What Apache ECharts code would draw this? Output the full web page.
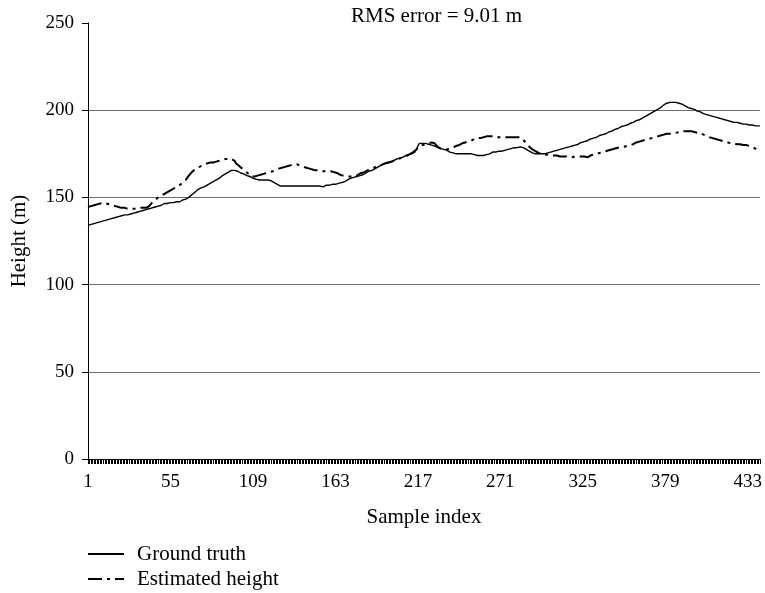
<!DOCTYPE html>
<html>
<head>
<meta charset="utf-8">
<script src="https://cdn.jsdelivr.net/npm/echarts@6/dist/echarts.min.js"></script>
<style>
html,body{margin:0;padding:0;background:#fff;}
#chart{width:765px;height:593px;}
</style>
</head>
<body>
<div id="chart"></div>
<script>
// Ground truth height (m), samples 1..441
const groundTruth = [
/*1*/ 134,134,134.5,134.5,135,135,135.5,
/*8*/ 136,136,136.5,136.5,137,137,137.5,137.5,138,138,138.5,138.5,
/*20*/ 139,139,139,139.5,139.5,140,140,140,140.5,140.5,140.5,
/*31*/ 141,141,141.5,141.5,142,142,
/*37*/ 142.5,142.5,143,143,143.5,143.5,144,
/*44*/ 144.5,144.5,145,145,145.5,145.5,146,
/*51*/ 146.5,146.5,146.5,147,147,147,147,147,147.5,147.5,
/*61*/ 147.5,148,148.5,148.5,149,
/*66*/ 149.5,150,151,151.5,152,153,
/*72*/ 154,154.5,155,155.5,156,156,156.5,157,157.5,
/*81*/ 158,158.5,159,159.5,160,160.5,161,
/*88*/ 162,162.5,163,163.5,164,164.5,165,165.5,
/*96*/ 166,
/*97*/ 165.5,165,165,164.5,164,163.5,163.5,163,
/*105*/ 162.5,162,162,161.5,
/*109*/ 161,160.5,160.5,160,160,160,160,160,160,160,160,159.5,
/*121*/ 159.5,159,158.5,158,157.5,157,156.5,
/*128*/ 156.5,156.5,156.5,156.5,156.5,156.5,156.5,156.5,156.5,156.5,156.5,156.5,156.5,
/*141*/ 156.5,156.5,156.5,156.5,156.5,156.5,156.5,156.5,156.5,156.5,156.5,156.5,156.5,
/*154*/ 155.5,156,157,
/*157*/ 157,157,157,157,157.5,157.5,157.5,158,
/*165*/ 158,158,158.5,158.5,
/*169*/ 159,159.5,160,160.5,
/*173*/ 161,161,161.5,161.5,162,162,162.5,
/*180*/ 163,163,163.5,164,164.5,165,165.5,165.5,166,
/*189*/ 166.5,167,167.5,168,168.5,169,169.5,
/*196*/ 169.5,170,170,170.5,170.5,171,
/*202*/ 171.5,172,172.5,172.5,173,173,173.5,
/*209*/ 174,174.5,174.5,175,175,175.5,
/*215*/ 176,177.5,179.5,
/*218*/ 181,181,181,181,
/*222*/ 181,180.5,180.5,180,180,179.5,179.5,
/*229*/ 179,178.5,178.5,178,178,177.5,
/*235*/ 177,177,176.5,176,176,175.5,175.5,
/*242*/ 175,175,175,175,175,175,175,175,175,175,175,
/*253*/ 175,174.5,
/*255*/ 174,174,174,174,174,174,174.5,174.5,174.5,
/*264*/ 175,175.5,
/*266*/ 176,176,176,176.5,176.5,176.5,176.5,
/*273*/ 177,177,177.5,177.5,
/*277*/ 178,178,178,178.5,178.5,178.5,179,
/*284*/ 179,179,178.5,178,
/*288*/ 177.5,177,176.5,176,175.5,175.5,
/*294*/ 175,175,175,175,175,175,175,
/*301*/ 175,175.5,176,176,176.5,176.5,
/*307*/ 177,177,177.5,177.5,178,178,178.5,178.5,179,
/*316*/ 179,179.5,179.5,180,180,180.5,180.5,
/*323*/ 181,181.5,181.5,182,182.5,182.5,183,183.5,183.5,184,184.5,
/*334*/ 184.5,185,185.5,185.5,186,186.5,186.5,187,187.5,187.5,188,188.5,189,
/*347*/ 189.5,189.5,190,190.5,190.5,191,191.5,191.5,192,192.5,192.5,193,193.5,194,
/*361*/ 194.5,194.5,195,195.5,196,196.5,197,197.5,198,198.5,
/*371*/ 199,199.5,200,200.5,201,201.5,202,
/*378*/ 203,203.5,204,204,
/*382*/ 204.5,204.5,204.5,204.5,204.5,204.5,
/*388*/ 204,203.5,203.5,203,202.5,
/*393*/ 202,201.5,201.5,201,200.5,200.5,200,199.5,199.5,199,198.5,
/*404*/ 198,198,197.5,197.5,197,197,196.5,196.5,196,196,195.5,
/*415*/ 195,195,194.5,194.5,194,194,194,193.5,193.5,
/*424*/ 193,193,193,192.5,192.5,192.5,192,192,192,192,
/*434*/ 191.5,191.5,191.5,191.5,191,191,191,191
];

// Estimated height (m), samples 1..441
const estimatedHeight = [
/*1*/ 144.5,145,145,145.5,145.5,146,146,146.5,146.5,147,
/*11*/ 147,147,146.5,146.5,146,145.5,145.5,145,145,
/*20*/ 144.5,144.5,144.5,144,144,144,144,143.5,143.5,
/*29*/ 143.5,143.5,143.5,143.5,143.5,144,144,144,144,144,
/*39*/ 144,144.5,145,146,147,147.5,148.5,
/*46*/ 149.5,150,150.5,151,151.5,152,152.5,153,153.5,
/*55*/ 154,154.5,155,155.5,156,156.5,157,157.5,158.5,
/*64*/ 159,160,161,162.5,163.5,164.5,
/*70*/ 165.5,166,166.5,167,167.5,168,168,168.5,169,
/*79*/ 169.5,169.5,170,170,170,170.5,170.5,171,171,
/*88*/ 171.5,171.5,171.5,172,172,172,172,172,
/*96*/ 172.5,171,
/*98*/ 169.5,168.5,168,167,166.5,165.5,165,
/*105*/ 164.5,163.5,162.5,
/*108*/ 162,162,162,162.5,162.5,
/*113*/ 162.5,163,163,163.5,163.5,164,164,164.5,
/*121*/ 164.5,165,165.5,166,166,166.5,166.5,167,167,
/*130*/ 167.5,168,168,168.5,168.5,169,169,
/*137*/ 169.5,169,168.5,168,168,167.5,167,167,166.5,166.5,
/*147*/ 166,166,166,165.5,165.5,165.5,165.5,165,165,
/*156*/ 165,165,165,165,165,164.5,164.5,
/*163*/ 164.5,164,163.5,163,
/*167*/ 162.5,162.5,162.5,162.5,162,162,162,162,162,
/*176*/ 162,162.5,163,163.5,164,164.5,164.5,165,
/*184*/ 165.5,166,166.5,166.5,167,167.5,167.5,168,168,
/*193*/ 168.5,169,169,169.5,169.5,170,170.5,170.5,171,
/*202*/ 171.5,171.5,172,172.5,172.5,173,173,173.5,
/*210*/ 174,174.5,175,175.5,
/*214*/ 176,176.5,177.5,178,
/*218*/ 179,179.5,180,180,180.5,181,181,181.5,181.5,
/*227*/ 182,181,180,179,
/*231*/ 178,178,177.5,177.5,
/*235*/ 177,177.5,177.5,178,178.5,178.5,179,179.5,180,180,180.5,
/*246*/ 181,181.5,181.5,182,182,182.5,182.5,183,183.5,
/*255*/ 183.5,184,184,184,184.5,184.5,184.5,185,185,
/*264*/ 185,185,185,185,184.5,184.5,184.5,184.5,184.5,
/*273*/ 184.5,184.5,184.5,184.5,184.5,184.5,184.5,184.5,184.5,184.5,184.5,
/*284*/ 184.5,184,183,182,181,180,
/*290*/ 179,178.5,177.5,177,176.5,176,175.5,
/*297*/ 175,175,175,174.5,174.5,174.5,174.5,174,174,174,
/*307*/ 174,174,173.5,173.5,173.5,173.5,173.5,173.5,173,173,173,
/*318*/ 173,173,173.5,173.5,173.5,173.5,173.5,173.5,173.5,173.5,
/*328*/ 173,173.5,174,174,174.5,174.5,175,175,175.5,175.5,176,
/*339*/ 176,176.5,176.5,177,177,177.5,177.5,178,
/*347*/ 178,178.5,178.5,179,179,179,179.5,179.5,180,
/*356*/ 180,180.5,180.5,181,181.5,181.5,182,182,182.5,
/*365*/ 183,183,183.5,183.5,184,184,184.5,184.5,185,185,185.5,
/*376*/ 185.5,186,186,186,186.5,186.5,186.5,187,187,
/*385*/ 187,187,187.5,187.5,187.5,188,188,188,
/*393*/ 188.5,188,188,188,187.5,187.5,187.5,187,187,
/*402*/ 187,186.5,186,185.5,185.5,185,184.5,184.5,184,
/*411*/ 184,183.5,183.5,183,183,182.5,182.5,182,182,181.5,
/*421*/ 181.5,181,181,181,181,180.5,180.5,180.5,180.5,180,180,
/*432*/ 180,180,179.5,179,179,178.5,178,177.5,177,176.5
];

// Sample index categories 1..N
const sampleIndex = groundTruth.map((_, i) => String(i + 1));
const yTicks = [0, 50, 100, 150, 200, 250];
const titleText = 'RMS error = 9.01 m';

const FONT = '"Liberation Serif", "DejaVu Serif", serif';
const chart = echarts.init(document.getElementById('chart'), null, {renderer: 'canvas'});
chart.setOption({
  animation: false,
  backgroundColor: '#fff',
  textStyle: {fontFamily: FONT, color: '#000'},
  title: {
    text: titleText,
    left: 351, top: 6,
    padding: 0,
    textStyle: {fontFamily: FONT, fontSize: 21, fontWeight: 'normal', color: '#000'}
  },
  legend: {
    orient: 'vertical',
    left: 87, top: 543,
    height: 60,
    padding: 0,
    itemWidth: 36, itemHeight: 10,
    itemGap: 3,
    itemStyle: {opacity: 0},
    textStyle: {fontFamily: FONT, fontSize: 21, lineHeight: 22, color: '#000', padding: [0, 0, 0, 8]},
    data: ['Ground truth', 'Estimated height']
  },
  grid: {left: 88, right: 2, top: 23, bottom: 134, containLabel: false},
  xAxis: {
    type: 'category',
    data: sampleIndex,
    boundaryGap: false,
    name: 'Sample index',
    nameLocation: 'middle',
    nameGap: 48,
    nameTextStyle: {fontFamily: FONT, fontSize: 21, color: '#000'},
    axisLine: {lineStyle: {color: '#000', width: 1}},
    axisTick: {show: true, interval: 0, length: 5, lineStyle: {color: '#000', width: 1}},
    axisLabel: {interval: 53, margin: 14, fontFamily: FONT, fontSize: 19, color: '#000'},
    splitLine: {show: false}
  },
  yAxis: {
    type: 'value',
    min: yTicks[0], max: yTicks[yTicks.length - 1], interval: 50,
    name: 'Height (m)',
    nameLocation: 'middle',
    nameGap: 58,
    nameTextStyle: {fontFamily: FONT, fontSize: 21, color: '#000'},
    axisLine: {show: true, lineStyle: {color: '#000', width: 1}},
    axisTick: {show: true, length: 6, lineStyle: {color: '#000'}},
    axisLabel: {margin: 14, fontFamily: FONT, fontSize: 19, color: '#000'},
    splitLine: {show: true, showMinLine: false, showMaxLine: false, lineStyle: {color: '#6e6e6e', width: 1}}
  },
  series: [
    {
      name: 'Ground truth', type: 'line', data: groundTruth,
      symbol: 'none',
      lineStyle: {color: '#000', width: 1.4, type: 'solid'},
      itemStyle: {color: '#000'}
    },
    {
      name: 'Estimated height', type: 'line', data: estimatedHeight,
      symbol: 'none',
      lineStyle: {color: '#000', width: 2, type: [14, 5, 3, 5]},
      itemStyle: {color: '#000'}
    }
  ]
});
</script>
</body>
</html>
